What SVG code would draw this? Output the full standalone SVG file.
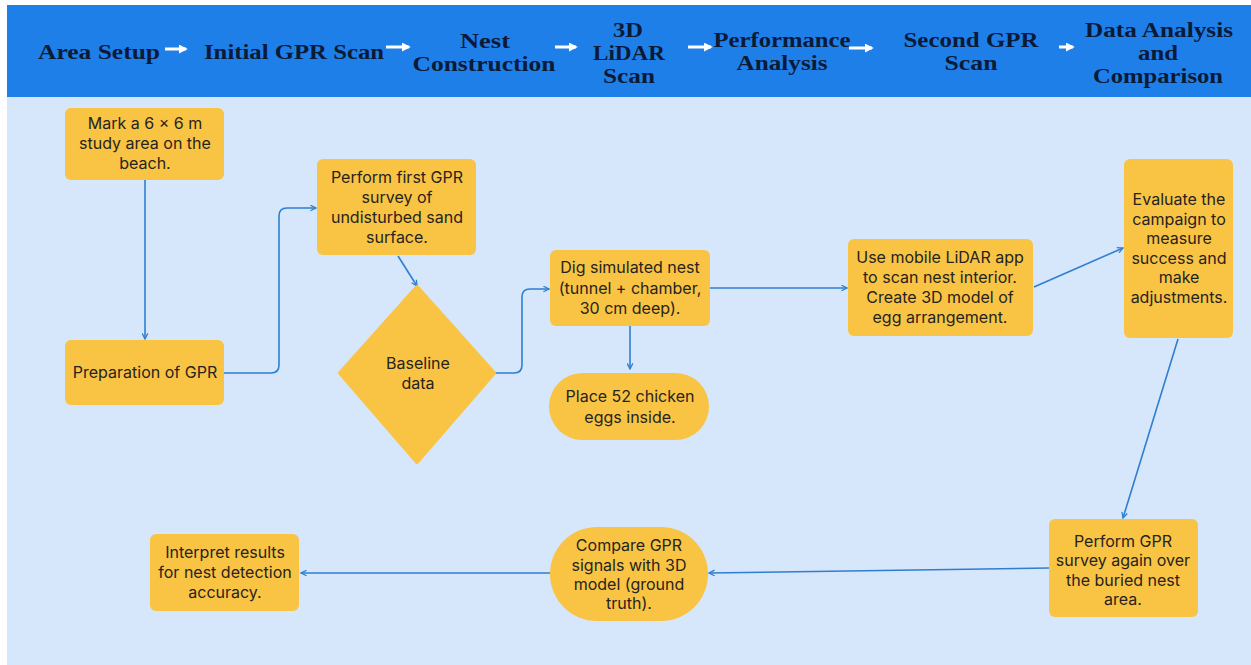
<svg xmlns="http://www.w3.org/2000/svg" width="1251" height="665" viewBox="0 0 1251 665">
<defs>
<style>
.hdr{font-family:"Liberation Serif","Times New Roman",serif;font-weight:bold;font-size:21px;fill:#0b1a36;text-anchor:middle}
.node{fill:#f9c443}
.t{font-family:Inter,"Noto Sans",sans-serif;font-size:16px;fill:#262320;text-anchor:middle}
.c{fill:none;stroke:#2f7fd0;stroke-width:1.6}
.ha{fill:none;stroke:#ffffff;stroke-width:3}
</style>
<marker id="ar" viewBox="0 0 10 10" refX="9" refY="5" markerWidth="7" markerHeight="7" markerUnits="userSpaceOnUse" orient="auto">
<path d="M1,1 L9,5 L1,9" fill="none" stroke="#2f7fd0" stroke-width="1.8"/>
</marker>
<marker id="wa" viewBox="0 0 10 10" refX="8" refY="5" markerWidth="9" markerHeight="9" markerUnits="userSpaceOnUse" orient="auto">
<path d="M0,0 L10,5 L0,10 Z" fill="#ffffff"/>
</marker>
</defs>
<rect x="0" y="0" width="1251" height="665" fill="#ffffff"/>
<rect x="7" y="97" width="1244" height="568" fill="#d6e6fb"/>
<rect x="7" y="5" width="1244" height="92" fill="#1f7fe8"/>

<g id="header">
<text class="hdr" x="99" y="59" textLength="122" lengthAdjust="spacingAndGlyphs">Area Setup</text>
<line class="ha" x1="165" y1="49" x2="186" y2="49" marker-end="url(#wa)"/>
<text class="hdr" x="294" y="59" textLength="180" lengthAdjust="spacingAndGlyphs">Initial GPR Scan</text>
<line class="ha" x1="386" y1="47" x2="409" y2="47" marker-end="url(#wa)"/>
<text class="hdr" x="485" y="48" textLength="50" lengthAdjust="spacingAndGlyphs">Nest</text>
<text class="hdr" x="484" y="71" textLength="143" lengthAdjust="spacingAndGlyphs">Construction</text>
<line class="ha" x1="555" y1="47" x2="576" y2="47" marker-end="url(#wa)"/>
<text class="hdr" x="628" y="37" textLength="30" lengthAdjust="spacingAndGlyphs">3D</text>
<text class="hdr" x="629" y="60" textLength="72" lengthAdjust="spacingAndGlyphs">LiDAR</text>
<text class="hdr" x="629" y="83" textLength="52" lengthAdjust="spacingAndGlyphs">Scan</text>
<line class="ha" x1="688" y1="47" x2="711" y2="47" marker-end="url(#wa)"/>
<text class="hdr" x="782" y="47" textLength="137" lengthAdjust="spacingAndGlyphs">Performance</text>
<text class="hdr" x="782" y="70" textLength="91" lengthAdjust="spacingAndGlyphs">Analysis</text>
<line class="ha" x1="849" y1="48" x2="872" y2="48" marker-end="url(#wa)"/>
<text class="hdr" x="971" y="47" textLength="135" lengthAdjust="spacingAndGlyphs">Second GPR</text>
<text class="hdr" x="971" y="70" textLength="53" lengthAdjust="spacingAndGlyphs">Scan</text>
<line class="ha" x1="1059" y1="47" x2="1073" y2="47" marker-end="url(#wa)"/>
<text class="hdr" x="1159" y="37" textLength="148" lengthAdjust="spacingAndGlyphs">Data Analysis</text>
<text class="hdr" x="1158" y="60" textLength="40" lengthAdjust="spacingAndGlyphs">and</text>
<text class="hdr" x="1158" y="83" textLength="130" lengthAdjust="spacingAndGlyphs">Comparison</text>
</g>

<g id="connectors">
<path class="c" d="M145,180 V339" marker-end="url(#ar)"/>
<path class="c" d="M224,373 H271 Q279,373 279,365 V216 Q279,208 287,208 H316" marker-end="url(#ar)"/>
<path class="c" d="M398,256 L417,286" marker-end="url(#ar)"/>
<path class="c" d="M494,373 H514 Q522,373 522,365 V297 Q522,289 530,289 H549" marker-end="url(#ar)"/>
<path class="c" d="M630,326 V369" marker-end="url(#ar)"/>
<path class="c" d="M710,288 H847" marker-end="url(#ar)"/>
<path class="c" d="M1034,287 L1123,248" marker-end="url(#ar)"/>
<path class="c" d="M1178,339 L1123,518" marker-end="url(#ar)"/>
<path class="c" d="M1049,568 L709,573" marker-end="url(#ar)"/>
<path class="c" d="M550,573 H301" marker-end="url(#ar)"/>
</g>

<g id="n1">
<rect class="node" x="65" y="108" width="159" height="72" rx="6"/>
<text class="t" x="145" y="129">Mark a 6 × 6 m</text>
<text class="t" x="145" y="149">study area on the</text>
<text class="t" x="145" y="169">beach.</text>
</g>
<g id="n2">
<rect class="node" x="65" y="340" width="159" height="65" rx="6"/>
<text class="t" x="145" y="378">Preparation of GPR</text>
</g>
<g id="n3">
<rect class="node" x="317" y="159" width="159" height="96" rx="6"/>
<text class="t" x="397" y="183">Perform first GPR</text>
<text class="t" x="397" y="203">survey of</text>
<text class="t" x="397" y="223">undisturbed sand</text>
<text class="t" x="397" y="243">surface.</text>
</g>
<g id="n4">
<path class="node" d="M417,287 L494,373 L417,462 L340,373 Z" stroke="#f9c443" stroke-width="4" stroke-linejoin="round"/>
<text class="t" x="418" y="369">Baseline</text>
<text class="t" x="418" y="389">data</text>
</g>
<g id="n5">
<rect class="node" x="550" y="250" width="160" height="76" rx="6"/>
<text class="t" x="630" y="273">Dig simulated nest</text>
<text class="t" x="630" y="294">(tunnel + chamber,</text>
<text class="t" x="630" y="314">30 cm deep).</text>
</g>
<g id="n6">
<rect class="node" x="549" y="373" width="160" height="67" rx="33.5"/>
<text class="t" x="630" y="402">Place 52 chicken</text>
<text class="t" x="630" y="423">eggs inside.</text>
</g>
<g id="n7">
<rect class="node" x="848" y="239" width="185" height="97" rx="6"/>
<text class="t" x="940" y="263">Use mobile LiDAR app</text>
<text class="t" x="940" y="283">to scan nest interior.</text>
<text class="t" x="940" y="303">Create 3D model of</text>
<text class="t" x="940" y="323">egg arrangement.</text>
</g>
<g id="n8">
<rect class="node" x="1124" y="159" width="109" height="179" rx="6"/>
<text class="t" x="1179" y="205">Evaluate the</text>
<text class="t" x="1179" y="225">campaign to</text>
<text class="t" x="1179" y="244">measure</text>
<text class="t" x="1179" y="264">success and</text>
<text class="t" x="1179" y="283">make</text>
<text class="t" x="1179" y="303">adjustments.</text>
</g>
<g id="n9">
<rect class="node" x="1049" y="519" width="149" height="98" rx="6"/>
<text class="t" x="1123" y="547">Perform GPR</text>
<text class="t" x="1123" y="566">survey again over</text>
<text class="t" x="1123" y="586">the buried nest</text>
<text class="t" x="1123" y="605">area.</text>
</g>
<g id="n10">
<rect class="node" x="550" y="527" width="158" height="94" rx="47"/>
<text class="t" x="629" y="551">Compare GPR</text>
<text class="t" x="629" y="571">signals with 3D</text>
<text class="t" x="629" y="590">model (ground</text>
<text class="t" x="629" y="609">truth).</text>
</g>
<g id="n11">
<rect class="node" x="150" y="534" width="149" height="77" rx="6"/>
<text class="t" x="225" y="558">Interpret results</text>
<text class="t" x="225" y="578">for nest detection</text>
<text class="t" x="225" y="598">accuracy.</text>
</g>
</svg>
